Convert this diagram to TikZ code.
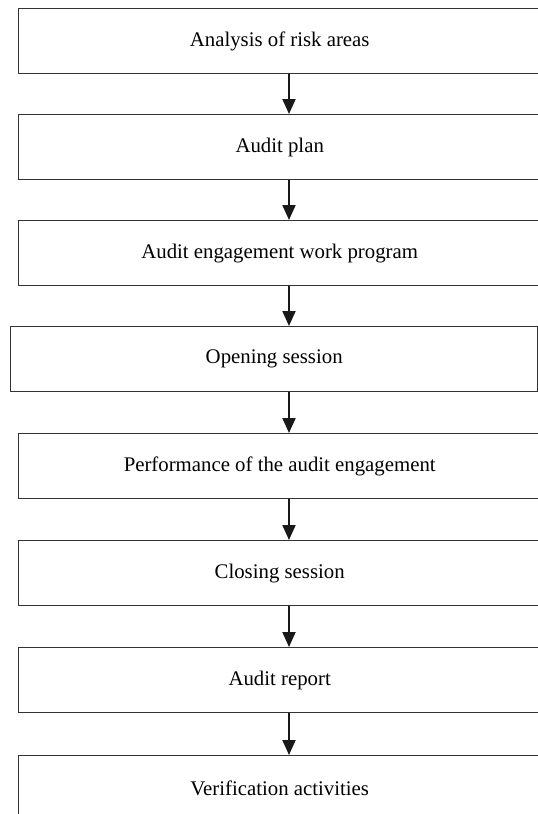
\documentclass[tikz,border=0pt]{standalone}
\usepackage{fontspec}
\setmainfont{Liberation Serif}
\usetikzlibrary{arrows.meta}

\tikzset{
  stagebox/.style={draw=black!80, line width=1.4pt, anchor=north west,
    minimum width=522pt, minimum height=65pt, inner sep=0pt,
    font=\fontsize{20.8}{25}\selectfont},
  flow/.style={line width=2pt, draw=black!90,
    -{Triangle[length=15pt,width=13pt]}}
}

\begin{document}
\begin{tikzpicture}[x=1pt, y=-1pt]
	\useasboundingbox (0,0) rectangle (538,814);
	\clip (0,0) rectangle (538,814);
	%\draw [help lines] (0,0) grid (538,814);
	\coordinate (ax) at (289,0);
	% stages
	\node[stagebox] (risk) at (18,8) {Analysis of risk areas};
	\node[stagebox] (plan) at (18,114) {Audit plan};
	\node[stagebox] (prog) at (18,220) {Audit engagement work program};
	\node[stagebox, minimum width=527pt] (open) at (10,326) {Opening session};
	\node[stagebox] (perf) at (18,433) {Performance of the audit engagement};
	\node[stagebox] (close) at (18,540) {Closing session};
	\node[stagebox] (report) at (18,647) {Audit report};
	\node[stagebox] (verif) at (18,755) {Verification activities};
	% arrows
	\draw[flow] (risk.south -| ax) -- (plan.north -| ax);
	\draw[flow] (plan.south -| ax) -- (prog.north -| ax);
	\draw[flow] (prog.south -| ax) -- (open.north -| ax);
	\draw[flow] (open.south -| ax) -- (perf.north -| ax);
	\draw[flow] (perf.south -| ax) -- (close.north -| ax);
	\draw[flow] (close.south -| ax) -- (report.north -| ax);
	\draw[flow] (report.south -| ax) -- (verif.north -| ax);
\end{tikzpicture}
\end{document}
